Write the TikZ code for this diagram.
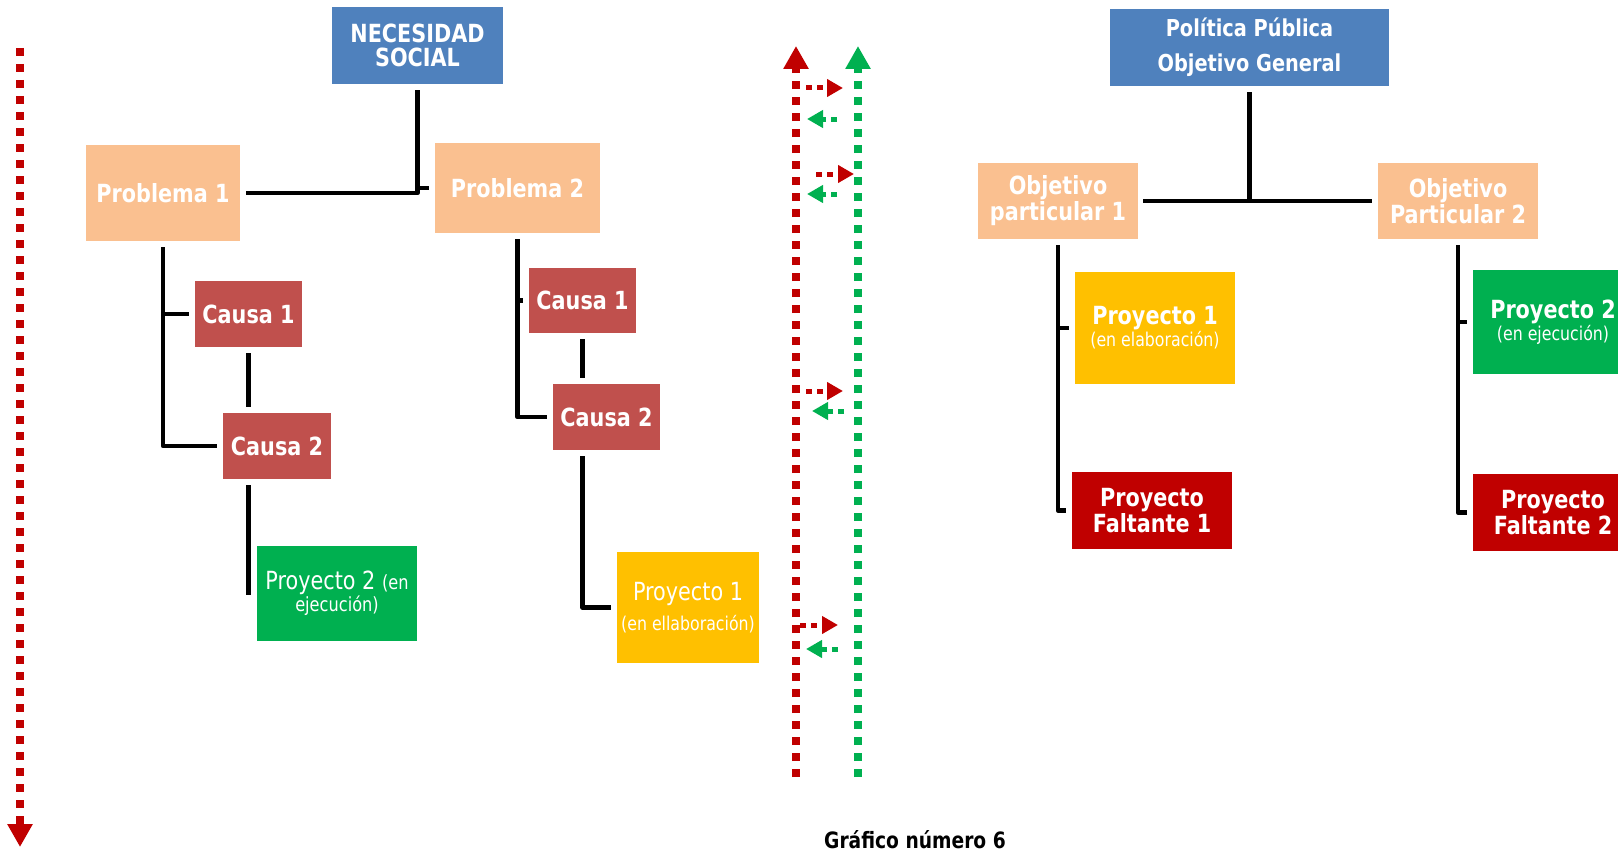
\documentclass[tikz,border=0pt]{standalone}
\usepackage{fontspec}
\setmainfont{DejaVu Sans}[FakeStretch=0.83]
\usetikzlibrary{arrows.meta}
\definecolor{cblue}{HTML}{4F81BD}
\definecolor{cpeach}{HTML}{FAC090}
\definecolor{ccausa}{HTML}{C0504D}
\definecolor{cgreen}{HTML}{00B050}
\definecolor{cyellow}{HTML}{FFC000}
\definecolor{cdred}{HTML}{C00000}
\newcommand{\sm}{\fontsize{19}{20}\selectfont}
\tikzset{
  box/.style={rectangle, inner sep=0pt, text=white, align=center},
  bl/.style={box, font=\bfseries\fontsize{25}{26}\selectfont},
  bluebox/.style={box, fill=cblue},
  peachbox/.style={bl, fill=cpeach},
  causabox/.style={bl, fill=ccausa},
  greenbox/.style={box, fill=cgreen},
  yellowbox/.style={box, fill=cyellow},
  dredbox/.style={bl, fill=cdred},
  conn/.style={draw=black, line width=4.5pt, line join=round, shorten <=6pt, shorten >=6pt},
  bigred/.style={draw=cdred, line width=8pt, dash pattern=on 8pt off 8pt, -{Triangle[length=23pt,width=24pt]}},
  biggreen/.style={draw=cgreen, line width=8pt, dash pattern=on 8pt off 8pt, -{Triangle[length=23pt,width=24pt]}},
  smallred/.style={draw=cdred, line width=5pt, dash pattern=on 6pt off 5pt, -{Triangle[length=16pt,width=17pt]}},
  smallgreen/.style={draw=cgreen, line width=5pt, dash pattern=on 6pt off 5pt, -{Triangle[length=16pt,width=17pt]}},
}
\begin{document}
\begin{tikzpicture}[x=1pt,y=-1pt]
\useasboundingbox (0,0) rectangle (1618,851);

% ---------- left tree ----------
\node[bluebox, font=\bfseries\fontsize{25}{24}\selectfont, minimum width=171pt, minimum height=77pt] (ns) at (417.5,45.5) {NECESIDAD\\SOCIAL};
\node[peachbox, minimum width=154pt, minimum height=96pt] (p1) at (163,193) {Problema 1};
\node[peachbox, minimum width=165pt, minimum height=90pt] (p2) at (517.5,188) {Problema 2};
\node[causabox, minimum width=107pt, minimum height=66pt] (c11) at (248.5,314) {Causa 1};
\node[causabox, minimum width=108pt, minimum height=66pt] (c12) at (277,446) {Causa 2};
\node[greenbox, font=\fontsize{25}{20}\selectfont, minimum width=160pt, minimum height=95pt] (pr2L) at (337,593.5) {Proyecto 2 {\fontsize{19.5}{20}\selectfont(en}\\{\fontsize{19.5}{20}\selectfont ejecución)}};
\node[causabox, minimum width=107pt, minimum height=65pt] (c21) at (582.5,300.5) {Causa 1};
\node[causabox, minimum width=107pt, minimum height=66pt] (c22) at (606.5,417) {Causa 2};
\node[yellowbox, font=\fontsize{25}{30}\selectfont, minimum width=142pt, minimum height=111pt] (pr1L) at (688,607.5) {Proyecto 1\\{\sm(en ellaboración)}};

\draw[conn] (p1.east) -| (ns.south);
\draw[conn] (ns.south) |- (p2.west);
\draw[conn] (p1.south) |- (c11.west);
\draw[conn] (p1.south) |- (c12.west);
\draw[conn] (c11.south) -- (c11.south |- c12.north);
\draw[conn, shorten >=-1pt] (c12.south -| c11.south) -- (c11.south |- pr2L.west);
\draw[conn] (p2.south) |- (c21.west);
\draw[conn] (p2.south) |- (c22.west);
\draw[conn] (c21.south) -- (c21.south |- c22.north);
\draw[conn] (c22.south -| c21.south) |- (pr1L.west);

% ---------- right tree ----------
\node[bluebox, font=\bfseries\fontsize{23.3}{35}\selectfont, minimum width=279pt, minimum height=77pt] (pol) at (1249.5,47.5) {Política Pública\\Objetivo General};
\node[peachbox, minimum width=160pt, minimum height=76pt] (op1) at (1058,201) {Objetivo\\particular 1};
\node[peachbox, minimum width=160pt, minimum height=76pt] (op2) at (1458,201) {Objetivo\\Particular 2};
\node[yellowbox, font=\bfseries\fontsize{25}{22}\selectfont, minimum width=160pt, minimum height=112pt] (pj1) at (1155,328) {Proyecto 1\\{\mdseries\sm(en elaboración)}};
\node[dredbox, minimum width=160pt, minimum height=77pt] (pf1) at (1152,510.5) {Proyecto\\Faltante 1};
\node[greenbox, font=\bfseries\fontsize{25}{22}\selectfont, minimum width=160pt, minimum height=104pt] (pj2) at (1553,322) {Proyecto 2\\{\mdseries\sm(en ejecución)}};
\node[dredbox, minimum width=160pt, minimum height=77pt] (pf2) at (1553,512.5) {Proyecto\\Faltante 2};

\draw[conn, shorten >=0pt] (pol.south) -- (pol.south |- op1.east);
\draw[conn, shorten <=5pt] (op1.east) -- (op2.west);
\draw[conn] (op1.south) |- (pj1.west);
\draw[conn] (op1.south) |- (pf1.west);
\draw[conn] (op2.south) |- (pj2.west);
\draw[conn] (op2.south) |- (pf2.west);

% ---------- dotted arrows ----------
\coordinate (lt) at (20,48);
\coordinate (lb) at (20,847);
\draw[bigred] (lt) -- (lb);

\coordinate (rb) at (796,777);
\coordinate (rt) at (796,46);
\coordinate (gb) at (858,777);
\coordinate (gt) at (858,46);
\draw[bigred] (rb) -- (rt);
\draw[biggreen] (gb) -- (gt);

\coordinate (a1) at (806,88);  \coordinate (a1e) at (843,88);
\coordinate (b1) at (837,119); \coordinate (b1e) at (807,119);
\coordinate (a2) at (816,174); \coordinate (a2e) at (854,174);
\coordinate (b2) at (837,194); \coordinate (b2e) at (807,194);
\coordinate (a3) at (806,391); \coordinate (a3e) at (843,391);
\coordinate (b3) at (844,411); \coordinate (b3e) at (812,411);
\coordinate (a4) at (800,625); \coordinate (a4e) at (838,625);
\coordinate (b4) at (838,649); \coordinate (b4e) at (806,649);
\draw[smallred] (a1) -- (a1e);
\draw[smallgreen] (b1) -- (b1e);
\draw[smallred] (a2) -- (a2e);
\draw[smallgreen] (b2) -- (b2e);
\draw[smallred] (a3) -- (a3e);
\draw[smallgreen] (b3) -- (b3e);
\draw[smallred] (a4) -- (a4e);
\draw[smallgreen] (b4) -- (b4e);

% ---------- caption ----------
\node[anchor=base, inner sep=0pt, font=\bfseries\fontsize{22.5}{24}\selectfont] (cap) at (915,848) {Gráfico número 6};
\end{tikzpicture}
\end{document}
